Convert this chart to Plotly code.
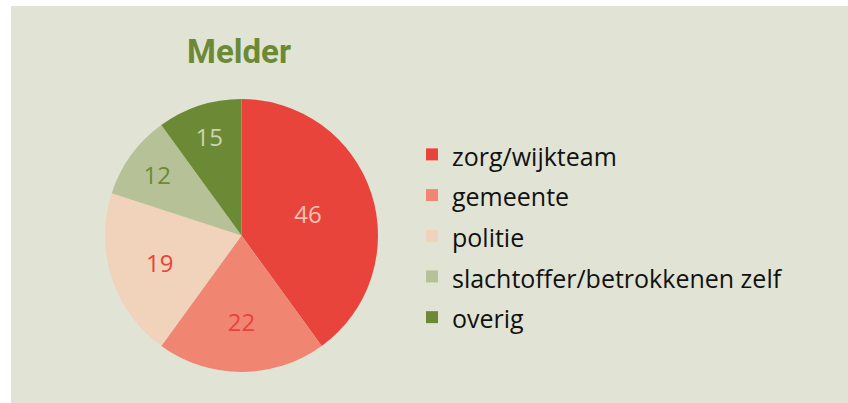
import plotly.graph_objects as go

labels = ["zorg/wijkteam", "gemeente", "politie", "slachtoffer/betrokkenen zelf", "overig"]
# slice sizes as drawn (share of the circle, %)
shares = [40, 20, 20, 10, 10]
# numbers printed in the slices
counts = [46, 22, 19, 12, 15]
slice_colors = ["#e8443b", "#f08672", "#f1d2ba", "#b7c197", "#6c8a36"]
text_colors = ["#f2c3b0", "#e8443b", "#e8443b", "#6c8a36", "#cdd3b3"]
title_text = "Melder"

BG = "#e1e4d4"
W, H = 848, 403
ML, MT = 11, 6
PW, PH = W - ML, H - MT

def px_x(x):
    return (x - ML) / PW

def px_y(y):
    return 1 - (y - MT) / PH

legend_labels = [f"<span style='font-size:25px'>{l}</span>" for l in labels]

fig = go.Figure(go.Pie(
    labels=legend_labels,
    values=shares,
    text=[str(c) for c in counts],
    textinfo="text",
    sort=False,
    direction="clockwise",
    rotation=0,
    marker=dict(colors=slice_colors, line=dict(width=0)),
    textposition="inside",
    insidetextorientation="horizontal",
    insidetextfont=dict(size=24, color=text_colors, family="Open Sans, sans-serif"),
    domain=dict(x=[px_x(105), px_x(378)], y=[px_y(372), px_y(99)]),
    hoverinfo="skip",
))

fig.add_shape(type="rect", xref="paper", yref="paper", x0=0, x1=1, y0=0, y1=1,
              fillcolor=BG, line=dict(width=0), layer="below")

fig.update_layout(
    width=W, height=H,
    margin=dict(l=ML, r=0, t=MT, b=0),
    paper_bgcolor="white",
    plot_bgcolor=BG,
    title=dict(text=f"<b>{title_text}</b>", x=px_x(239), xref="paper", xanchor="center",
               y=1 - 51 / H, yref="container", yanchor="middle",
               font=dict(size=33, color="#6c8a36", family="Roboto, sans-serif")),
    legend=dict(x=px_x(412), xanchor="left", y=px_y(236), yanchor="middle",
                font=dict(size=29, color="#111111", family="Open Sans, sans-serif"),
                bgcolor="rgba(0,0,0,0)"),
    showlegend=True,
)

fig.write_html("out.html", config={"displayModeBar": False},
               post_script="document.body.style.margin='0px';")
